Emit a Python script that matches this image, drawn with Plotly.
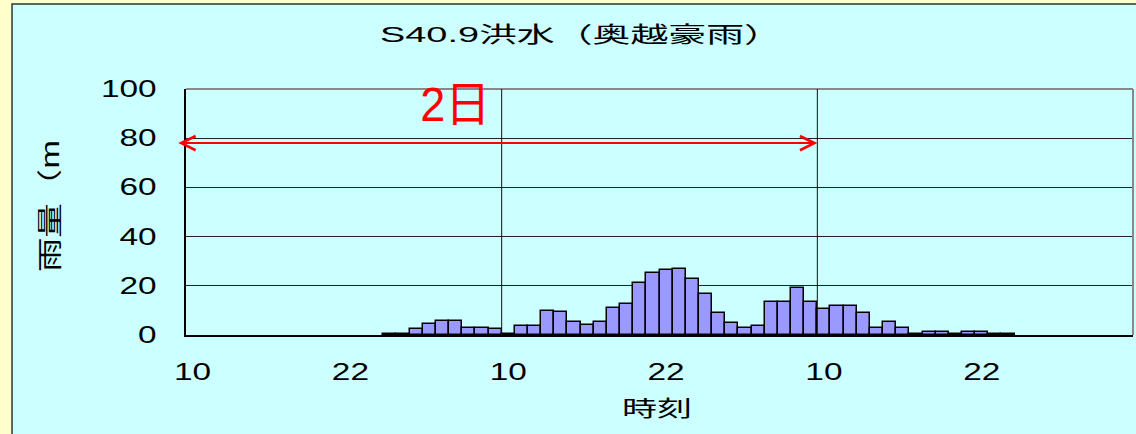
import plotly.graph_objects as go

# ---- data ----
hour_index = list(range(72))  # hourly bins starting at 10:00 of day 1
rain = [0, 0, 0, 0, 0, 0, 0, 0, 0, 0, 0, 0, 0, 0, 0,
        0.5, 0.5, 2.5, 4.5, 5.7, 5.7, 2.8, 2.8, 2.4, 0.5,
        3.5, 3.5, 9.7, 9.3, 5.3, 3.9, 5.3, 10.8, 12.5, 21.1,
        25.3, 26.3, 26.8, 22.6, 16.7, 8.9, 4.7, 3.0, 3.5, 13.4,
        13.4, 19.1, 13.4, 10.7, 11.8, 11.8, 8.9, 3.0, 5.4, 3.0,
        0.3, 1.2, 1.2, 0.3, 1.2, 1.2, 0.5, 0.5,
        0, 0, 0, 0, 0, 0, 0, 0, 0]
tick_positions = [0, 12, 24, 36, 48, 60]
tick_labels = ["10", "22", "10", "22", "10", "22"]
day_bounds = [23.5, 47.5]
y_ticks = [0, 20, 40, 60, 80, 100]
arrow_y = 78
arrow_start = -1.2
arrow_end = 47.5

title_text = "S40.9洪水（奥越豪雨）"
y_title = "雨量（m"
x_title = "時刻"
span_label = "2日"

FONT = "Liberation Sans, Noto Sans CJK JP, sans-serif"

fig = go.Figure()
fig.add_trace(go.Bar(
    x=hour_index, y=[v if v > 0 else None for v in rain],
    marker=dict(color="#9999FF", line=dict(color="#000000", width=1.5)),
    width=1.0, showlegend=False,
))

shapes = [
    # cyan panel with dark border (outer yellow frame shows at left/top)
    dict(type="rect", xref="paper", yref="paper", x0=-0.1837, x1=1.01,
         y0=-0.45, y1=1.3455, fillcolor="#CCFFFF",
         line=dict(color="#333333", width=1.5), layer="below"),
    # gray top and right borders of plot area
    dict(type="line", xref="paper", yref="paper", x0=0, x1=1, y0=1, y1=1,
         line=dict(color="#888888", width=2)),
    dict(type="line", xref="paper", yref="paper", x0=1, x1=1, y0=0, y1=1,
         line=dict(color="#888888", width=2)),
]
for b in day_bounds:
    shapes.append(dict(type="line", xref="x", yref="paper", x0=b, x1=b,
                       y0=0, y1=1, line=dict(color="#111111", width=1)))

annotations = [
    dict(text=y_title, xref="paper", yref="paper", x=(50 - 186) / 947,
         y=(335 - 206) / 246,
         textangle=-90, showarrow=False, xanchor="center", yanchor="middle",
         font=dict(family=FONT, size=25, color="#000000")),
    dict(text=x_title, xref="paper", yref="paper", x=(657 - 186) / 947,
         y=(335 - 408) / 246,
         showarrow=False, xanchor="center", yanchor="middle",
         font=dict(family=FONT, size=22, color="#000000")),
    dict(text=span_label, xref="paper", yref="paper", x=(455 - 186) / 947,
         y=(335 - 104) / 246,
         showarrow=False, xanchor="center", yanchor="middle",
         font=dict(family=FONT, size=48, color="#FF0000")),
    dict(text="", x=arrow_end, y=arrow_y, xref="x", yref="y",
         ax=arrow_start, ay=arrow_y, axref="x", ayref="y",
         showarrow=True, arrowhead=5, startarrowhead=5, arrowside="end+start",
         arrowwidth=2, arrowsize=1.4, startarrowsize=1.4,
         arrowcolor="#FF0000", standoff=0, startstandoff=0),
]

fig.update_layout(
    width=1136, height=434, autosize=False,
    margin=dict(l=186, r=3, t=89, b=99),
    paper_bgcolor="#FFFFCC", plot_bgcolor="#CCFFFF",
    bargap=0,
    title=dict(text=title_text, x=581 / 1136, y=1 - 34 / 434,
               xanchor="center", yanchor="middle",
               font=dict(family=FONT, size=22, color="#000000")),
    xaxis=dict(range=[-0.5, 71.5], tickmode="array", tickvals=tick_positions,
               ticktext=tick_labels, showgrid=False, zeroline=False,
               showline=True, linecolor="#000000", linewidth=1.5,
               ticks="", ticklabelstandoff=16,
               tickfont=dict(family=FONT, size=23, color="#000000")),
    yaxis=dict(range=[0, 100], tickmode="array", tickvals=y_ticks,
               showgrid=True, gridcolor="#222222", gridwidth=1,
               zeroline=False, showline=True, linecolor="#000000",
               linewidth=1.5, ticks="", ticklabelstandoff=23,
               tickfont=dict(family=FONT, size=23, color="#000000")),
    shapes=shapes, annotations=annotations,
)

# The reference glyphs are horizontally stretched; emulate with SVG textLength.
post = """
document.body.style.margin = '0';
var gd = document.querySelector('.plotly-graph-div');
function stretch(sel, f) {
  gd.querySelectorAll(sel).forEach(function (t) {
    var L = t.getComputedTextLength();
    t.setAttribute('lengthAdjust', 'spacingAndGlyphs');
    t.setAttribute('textLength', L * f);
  });
}
function fit(sel, w) {
  gd.querySelectorAll(sel).forEach(function (t) {
    t.setAttribute('lengthAdjust', 'spacingAndGlyphs');
    t.setAttribute('textLength', w);
  });
}
stretch('g.xtick text', 1.45);
stretch('g.ytick text', 1.45);
fit('text.gtitle', 402);
fit('g.annotation[data-index="0"] text', 132);
fit('g.annotation[data-index="1"] text', 70);
fit('g.annotation[data-index="2"] text', 70);
"""

fig.write_html("out.html", post_script=post, config={"displayModeBar": False})
